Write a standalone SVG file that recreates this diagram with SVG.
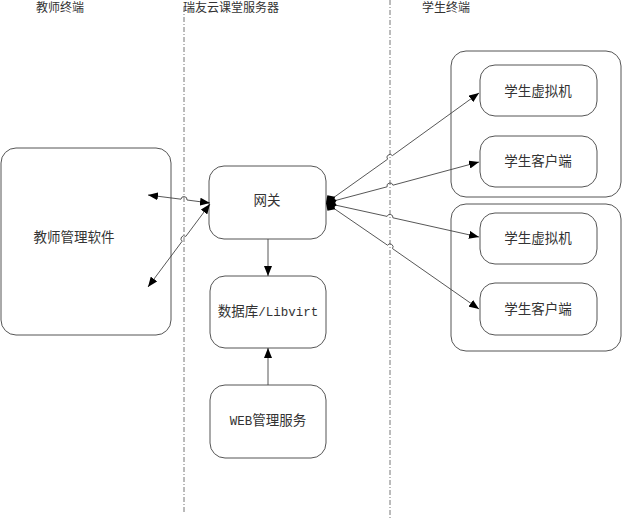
<svg xmlns="http://www.w3.org/2000/svg" width="622" height="523" viewBox="0 0 622 523">
<style>
.box{fill:#fff;stroke:#555;stroke-width:1}
.grp{fill:none;stroke:#555;stroke-width:1}
.sep{stroke:#777;stroke-width:1;stroke-dasharray:5 2 1 2;fill:none}
.ln{fill:none;stroke:#444;stroke-width:0.9}
text{font-family:"Liberation Serif","Noto Sans CJK SC",serif;fill:#333;text-anchor:middle}
.t{font-size:12px}
.n{font-size:13.5px}
.m{font-family:"Liberation Mono","Noto Sans CJK SC",monospace;font-size:12.5px}
</style>
<defs>
<marker id="arr" viewBox="0 0 10 8" refX="10" refY="4" markerWidth="10" markerHeight="8" orient="auto-start-reverse" markerUnits="userSpaceOnUse"><path d="M0,0 L10,4 L0,8 z" fill="#000"/></marker>
<marker id="dia" viewBox="0 0 11 12" refX="0" refY="6" markerWidth="11" markerHeight="12" orient="auto" markerUnits="userSpaceOnUse"><path d="M0,6 L5.5,0.5 L11,6 L5.5,11.5 z" fill="#000"/></marker>
</defs>
<rect width="622" height="523" fill="#fff"/>
<g id="separators">
<line class="sep" x1="184" y1="7" x2="184" y2="514"/>
<line class="sep" x1="390" y1="0" x2="390" y2="520"/>
</g>
<g id="titles">
<text class="t" x="60" y="12">教师终端</text>
<text class="t" x="231" y="12">瑞友云课堂服务器</text>
<text class="t" x="446" y="12">学生终端</text>
</g>
<g id="teacher"><rect class="box" x="1" y="148" width="170" height="187" rx="15"/><text class="n" x="74" y="242">教师管理软件</text></g>
<g id="gateway"><rect class="box" x="209" y="166" width="117" height="73" rx="15"/><text class="n" x="267" y="205">网关</text></g>
<g id="db"><rect class="box" x="210" y="276" width="116" height="72" rx="15"/><text class="n" x="268" y="316">数据库<tspan class="m">/Libvirt</tspan></text></g>
<g id="web"><rect class="box" x="210" y="385" width="116" height="73" rx="15"/><text class="n" x="268" y="425"><tspan class="m">WEB</tspan>管理服务</text></g>
<g id="group1"><rect class="grp" x="451" y="51" width="170" height="146" rx="15"/></g>
<g id="group2"><rect class="grp" x="451" y="204" width="170" height="147" rx="15"/></g>
<g id="vm1"><rect class="box" x="480" y="65" width="117" height="51" rx="15"/><text class="n" x="538" y="96">学生虚拟机</text></g>
<g id="client1"><rect class="box" x="480" y="136" width="117" height="51" rx="15"/><text class="n" x="538" y="166">学生客户端</text></g>
<g id="vm2"><rect class="box" x="480" y="213" width="117" height="51" rx="15"/><text class="n" x="538" y="243">学生虚拟机</text></g>
<g id="client2"><rect class="box" x="480" y="283" width="117" height="52" rx="15"/><text class="n" x="538" y="314">学生客户端</text></g>
<g id="connectors">
<path class="ln" marker-start="url(#arr)" marker-end="url(#arr)" d="M148,195 L181,199.2 A3,3 0 0 1 187,200 L210,203"/>
<path class="ln" marker-start="url(#arr)" marker-end="url(#arr)" d="M148,287 L182.2,241.2 A3,3 0 0 1 185.8,236.4 L210,204"/>
<path class="ln" marker-end="url(#arr)" d="M268,239 L268,276"/>
<path class="ln" marker-end="url(#arr)" d="M268,385 L268,348"/>
<path class="ln" marker-start="url(#dia)" marker-end="url(#arr)" d="M326,203 L387.6,159.2 A3,3 0 0 1 392.4,155.6 L479,93"/>
<path class="ln" marker-start="url(#dia)" marker-end="url(#arr)" d="M326,203 L387.1,186.8 A3,3 0 0 1 392.9,185.2 L479,162"/>
<path class="ln" marker-start="url(#dia)" marker-end="url(#arr)" d="M326,203 L387.1,216.4 A3,3 0 0 1 392.9,217.8 L479,237"/>
<path class="ln" marker-start="url(#dia)" marker-end="url(#arr)" d="M326,203 L387.5,245.2 A3,3 0 0 1 392.5,248.6 L479,309"/>
</g>
</svg>
